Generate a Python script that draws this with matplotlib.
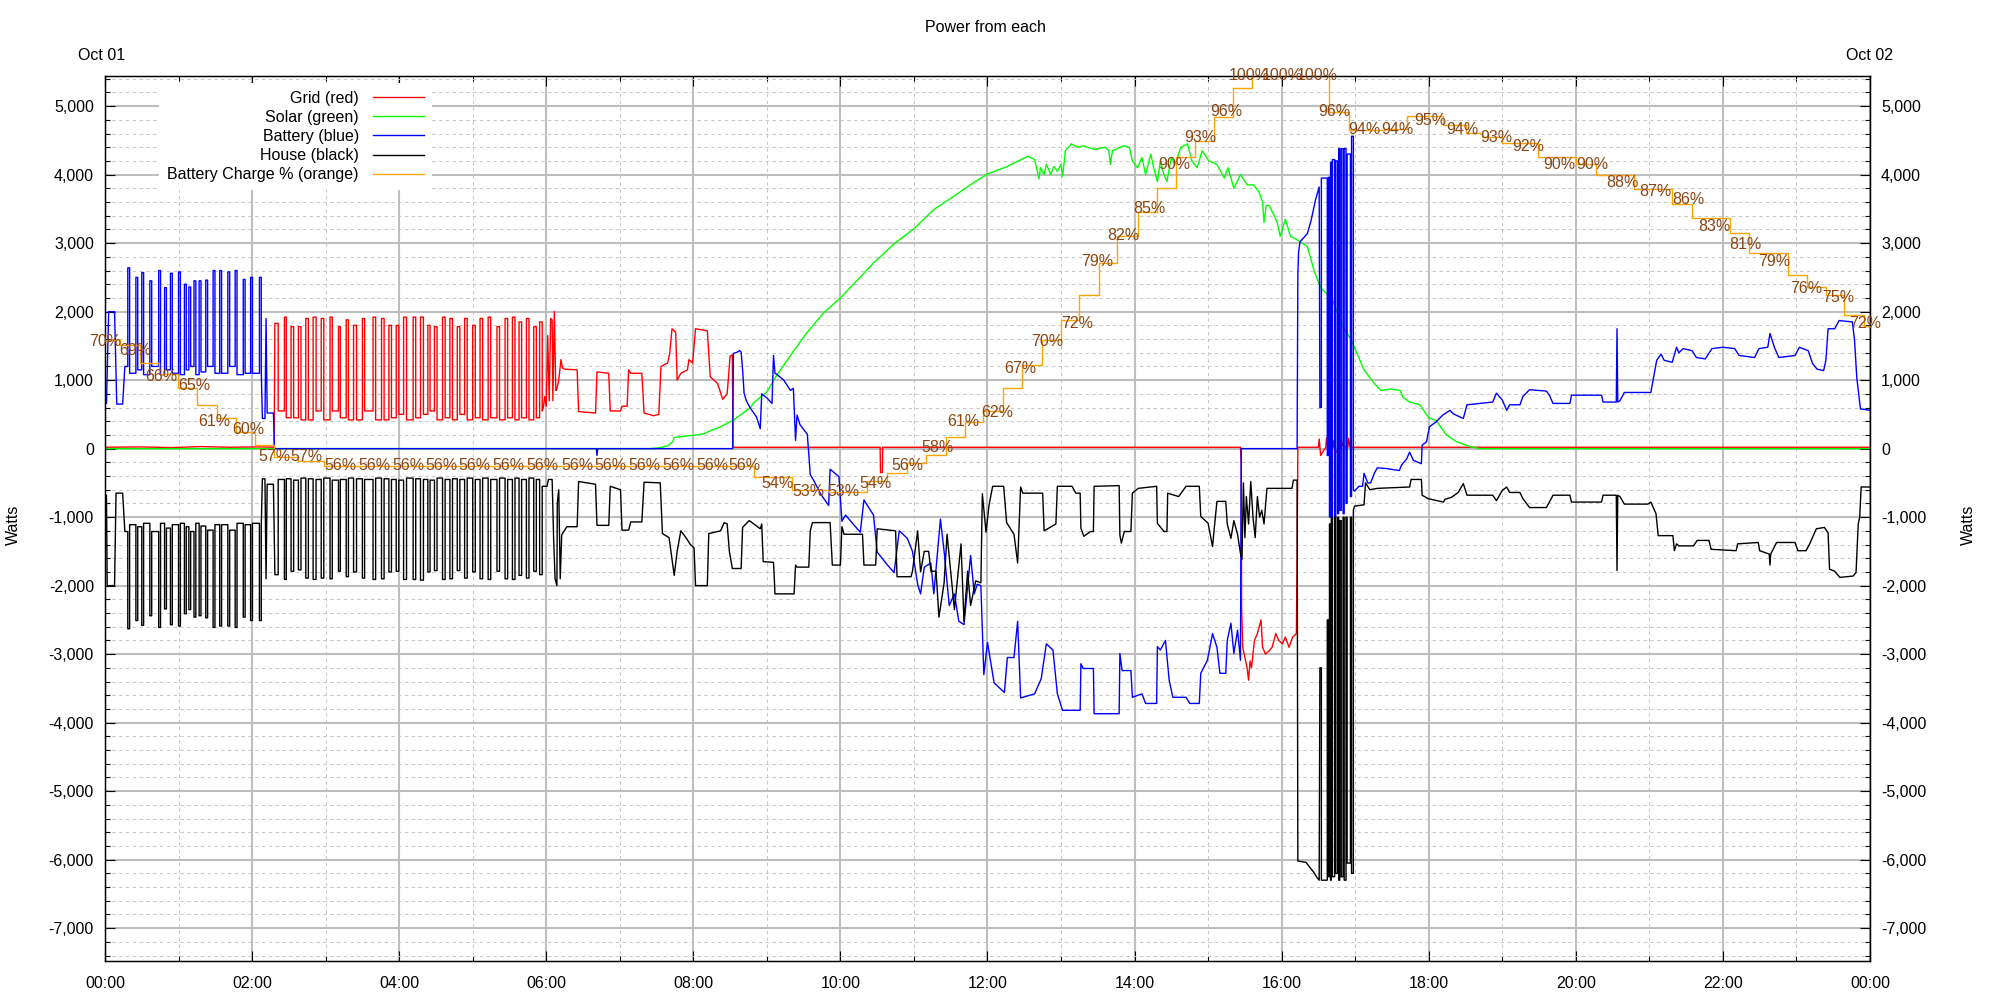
import numpy as np
import matplotlib
matplotlib.use("Agg")
import matplotlib.pyplot as plt
from matplotlib.ticker import MultipleLocator, FuncFormatter
from matplotlib.lines import Line2D

plt.rcParams['font.family'] = ['Liberation Sans', 'DejaVu Sans']

# ---------------- data (time in hours of Oct 01, power in watts) ----------------
# Grid (red)
red_pts1 = [(0.0, 20), (0.5, 25), (0.9, 15), (1.3, 30), (1.7, 20), (2.1, 25), (2.30, 20)]
red_osc_t = [2.31, 2.355, 2.44, 2.465, 2.53, 2.565, 2.63, 2.665, 2.73, 2.765,
             2.83, 2.87, 2.94, 2.975, 3.06, 3.09, 3.175, 3.20, 3.28, 3.31,
             3.38, 3.42, 3.50, 3.53, 3.645, 3.68, 3.76, 3.795, 3.86, 3.895,
             3.96, 3.995, 4.06, 4.10, 4.19, 4.225, 4.29, 4.33, 4.39, 4.42,
             4.48, 4.515, 4.59, 4.625, 4.69, 4.725, 4.79, 4.825, 4.89, 4.925,
             5.00, 5.035, 5.10, 5.135, 5.21, 5.245, 5.33, 5.365, 5.44, 5.475,
             5.54, 5.575, 5.63, 5.665, 5.73, 5.765, 5.83, 5.865, 5.91, 5.945]
red_osc_w = [1830, 550, 1920, 450, 1780, 450, 1780, 420, 1900, 420,
             1920, 550, 1900, 420, 1920, 550, 1780, 450, 1880, 420,
             1800, 420, 1900, 550, 1920, 420, 1900, 420, 1800, 450,
             1800, 500, 1920, 420, 1920, 450, 1920, 500, 1800, 550,
             1780, 420, 1920, 450, 1900, 420, 1780, 500, 1900, 420,
             1800, 450, 1900, 420, 1920, 450, 1780, 420, 1900, 450,
             1920, 420, 1850, 450, 1900, 420, 1780, 450, 1850, 550]
red_pts2 = [(5.96, 600), (5.98, 760), (6.00, 620), (6.02, 1650), (6.04, 700), (6.06, 1900),
            (6.08, 1880), (6.09, 700), (6.11, 2000), (6.13, 850), (6.14, 850), (6.17, 1000),
            (6.20, 1300), (6.22, 1180), (6.25, 1160), (6.42, 1150), (6.44, 540), (6.67, 520),
            (6.69, 1120), (6.85, 1100), (6.87, 550), (7.01, 550), (7.03, 620), (7.10, 620),
            (7.12, 1150), (7.15, 1100), (7.30, 1100), (7.33, 520), (7.46, 480), (7.53, 500),
            (7.56, 1200), (7.65, 1250), (7.68, 1400), (7.71, 1750), (7.76, 1700), (7.78, 1000),
            (7.83, 1100), (7.92, 1150), (7.94, 1300), (7.99, 1250), (8.03, 1750), (8.19, 1720),
            (8.23, 1050), (8.33, 950), (8.40, 720), (8.46, 800), (8.50, 1350), (8.53, 1370),
            (8.54, 20), (10.54, 20), (10.545, -350), (10.57, -350), (10.575, 20), (15.44, 20),
            (15.45, -230), (15.455, -2300), (15.47, -2900), (15.49, -3000), (15.53, -3200),
            (15.55, -3380), (15.57, -3100), (15.59, -3200), (15.63, -2800), (15.67, -2700),
            (15.72, -2500), (15.74, -2900), (15.78, -3000), (15.83, -2950), (15.87, -2900),
            (15.92, -2700), (15.96, -2800), (16.01, -2850), (16.05, -2750), (16.10, -2900),
            (16.15, -2750), (16.20, -2700), (16.21, -1580), (16.22, 20), (16.50, 20),
            (16.51, 140), (16.53, -100), (16.60, 20), (16.61, 160), (16.63, 0), (16.70, 20),
            (16.71, 120), (16.73, -60), (16.80, 20), (16.81, 130), (16.83, 40), (16.90, 20),
            (16.91, 150), (16.93, 20), (17.0, 20), (24.0, 20)]

# Solar (green)
green_pts = [(0.0, 0), (7.42, 0), (7.55, 15), (7.65, 40), (7.72, 100), (7.74, 165), (7.80, 170),
             (7.95, 190), (8.05, 200), (8.15, 220), (8.25, 270), (8.35, 310), (8.46, 370),
             (8.55, 420), (8.65, 500), (8.78, 600), (8.82, 670), (9.0, 830), (9.14, 1080),
             (9.36, 1420), (9.55, 1700), (9.77, 1980), (10.0, 2200), (10.23, 2460), (10.45, 2710),
             (10.73, 2990), (11.0, 3210), (11.27, 3490), (11.55, 3690), (11.82, 3890), (12.0, 4010),
             (12.27, 4120), (12.55, 4270), (12.64, 4220), (12.70, 3940), (12.72, 4100), (12.77, 4000),
             (12.80, 4150), (12.86, 4000), (12.90, 4120), (12.95, 4050), (13.0, 4150), (13.02, 3970),
             (13.06, 4350), (13.14, 4450), (13.22, 4400), (13.30, 4420), (13.45, 4370), (13.60, 4400),
             (13.65, 4350), (13.67, 4150), (13.70, 4350), (13.85, 4420), (13.93, 4400), (13.97, 4200),
             (14.04, 4100), (14.10, 4250), (14.15, 4000), (14.22, 4300), (14.26, 4100), (14.31, 3900),
             (14.35, 4200), (14.40, 4000), (14.44, 3900), (14.50, 4250), (14.55, 4150), (14.63, 4400),
             (14.72, 4450), (14.78, 4200), (14.85, 4100), (14.92, 4350), (15.01, 4200), (15.12, 4150),
             (15.17, 4050), (15.22, 3950), (15.27, 4100), (15.35, 3800), (15.44, 4000), (15.53, 3850),
             (15.62, 3850), (15.69, 3750), (15.74, 3600), (15.76, 3300), (15.79, 3550), (15.83, 3550),
             (15.90, 3400), (15.94, 3300), (15.98, 3100), (16.05, 3350), (16.12, 3100), (16.21, 3050),
             (16.35, 2950), (16.44, 2600), (16.53, 2350), (16.62, 2250), (16.70, 2150), (16.76, 1980),
             (16.85, 1750), (16.94, 1600), (17.0, 1450), (17.12, 1150), (17.26, 950), (17.35, 850),
             (17.48, 870), (17.61, 850), (17.65, 750), (17.74, 680), (17.88, 640), (18.0, 450),
             (18.10, 410), (18.24, 200), (18.38, 100), (18.56, 30), (18.69, 0), (24.0, 0)]

# Battery (blue)
blue_pts1 = [(0.0, 660), (0.02, 660), (0.05, 2000), (0.13, 2000), (0.16, 650), (0.24, 650)]
batt_osc_t = [0.27, 0.31, 0.335, 0.42, 0.445, 0.50, 0.525, 0.61, 0.635, 0.73, 0.755,
              0.81, 0.835, 0.89, 0.915, 1.00, 1.025, 1.08, 1.105, 1.14, 1.165,
              1.21, 1.235, 1.28, 1.305, 1.37, 1.395, 1.47, 1.495, 1.56, 1.585,
              1.67, 1.695, 1.77, 1.795, 1.88, 1.905, 1.98, 2.005, 2.10, 2.125]
blue_osc_w = [1200, 2640, 1100, 2500, 1150, 2570, 1080, 2450, 1200, 2600, 1080,
              2350, 1150, 2560, 1100, 2580, 1080, 2400, 1150, 2360, 1200,
              2450, 1080, 2450, 1120, 2460, 1200, 2600, 1100, 2600, 1100,
              2580, 1200, 2600, 1080, 2470, 1100, 2500, 1100, 2500, 1120]
blue_pts2 = [(2.14, 440), (2.175, 440), (2.19, 1900), (2.205, 520), (2.29, 520), (2.305, 0),
             (6.68, 0), (6.69, -100), (6.70, 0), (8.535, 0), (8.545, 1390), (8.60, 1410),
             (8.63, 1430), (8.65, 1410), (8.67, 1150), (8.69, 810), (8.72, 700), (8.77, 600),
             (8.86, 460), (8.91, 290), (8.93, 800), (9.0, 740), (9.07, 660), (9.09, 1360),
             (9.11, 1100), (9.14, 1080), (9.23, 1000), (9.32, 850), (9.36, 880), (9.39, 120),
             (9.41, 490), (9.45, 350), (9.55, 210), (9.59, -380), (9.64, -470), (9.73, -660),
             (9.84, -830), (9.86, -300), (9.98, -410), (10.02, -1060), (10.07, -970), (10.18, -1110),
             (10.27, -1220), (10.32, -750), (10.45, -970), (10.50, -1510), (10.64, -1700),
             (10.73, -1810), (10.80, -1200), (10.91, -1310), (10.98, -1500), (11.05, -1980),
             (11.09, -2120), (11.14, -1730), (11.23, -1670), (11.27, -2120), (11.32, -1510),
             (11.36, -1030), (11.41, -1500), (11.48, -2290), (11.55, -2120), (11.61, -2520),
             (11.68, -2570), (11.77, -1560), (11.82, -2120), (11.86, -1980), (11.91, -2000),
             (11.95, -3300), (12.0, -2830), (12.09, -3420), (12.23, -3560), (12.27, -3050),
             (12.36, -3050), (12.41, -2520), (12.45, -3640), (12.64, -3580), (12.73, -3360),
             (12.80, -2850), (12.89, -2940), (12.95, -3580), (13.02, -3820), (13.26, -3820),
             (13.27, -3140), (13.30, -3210), (13.44, -3210), (13.45, -3870), (13.79, -3870),
             (13.80, -2990), (13.83, -3240), (13.95, -3240), (13.97, -3630), (14.10, -3580),
             (14.15, -3720), (14.30, -3720), (14.31, -2890), (14.35, -2940), (14.42, -2800),
             (14.47, -3380), (14.52, -3630), (14.70, -3630), (14.75, -3720), (14.88, -3720),
             (14.90, -3280), (14.99, -3090), (15.06, -2700), (15.12, -2900), (15.16, -3280),
             (15.24, -3280), (15.26, -2800), (15.31, -2550), (15.35, -2990), (15.40, -2650),
             (15.44, -3090), (15.45, 0), (16.21, 0), (16.215, 1140), (16.22, 2550), (16.23, 2870),
             (16.25, 3020), (16.35, 3140), (16.40, 3330), (16.46, 3630), (16.51, 3820)]
evening_osc_t = [16.52, 16.54, 16.62, 16.635, 16.65, 16.665, 16.675, 16.69, 16.72, 16.735,
                 16.76, 16.775, 16.79, 16.81, 16.835, 16.85, 16.875, 16.89, 16.935, 16.95, 16.975]
blue_osc3_w = [600, 3950, -100, 3960, -1000, 4180, -1000, 4220, -1000, 4200,
               -950, 4380, -900, 4380, -950, 4380, -800, 4300, -700, 4560, -600]
blue_pts3 = [(16.99, -620), (17.05, -550), (17.10, -550), (17.12, -360), (17.17, -500), (17.21, -500),
             (17.26, -360), (17.30, -280), (17.42, -290), (17.60, -320), (17.63, -240), (17.70, -150),
             (17.74, -50), (17.79, -170), (17.90, -220), (17.91, 50), (17.97, 100), (18.01, 320),
             (18.10, 390), (18.19, 490), (18.29, 560), (18.33, 510), (18.47, 440), (18.52, 640),
             (18.69, 660), (18.87, 680), (18.92, 810), (19.0, 710), (19.06, 560), (19.10, 640),
             (19.24, 640), (19.28, 760), (19.37, 860), (19.60, 840), (19.64, 780), (19.69, 660),
             (19.92, 660), (19.94, 780), (20.35, 780), (20.37, 680), (20.55, 680), (20.56, 1750),
             (20.57, 680), (20.60, 700), (20.66, 820), (21.02, 820), (21.04, 940), (21.10, 1290),
             (21.16, 1380), (21.20, 1290), (21.31, 1260), (21.37, 1480), (21.40, 1400), (21.46, 1460),
             (21.58, 1430), (21.64, 1330), (21.76, 1310), (21.85, 1460), (22.0, 1480), (22.16, 1460),
             (22.22, 1360), (22.43, 1330), (22.49, 1460), (22.61, 1480), (22.64, 1680), (22.70, 1480),
             (22.76, 1330), (22.98, 1360), (23.04, 1480), (23.16, 1430), (23.22, 1240), (23.28, 1160),
             (23.37, 1140), (23.40, 1290), (23.43, 1750), (23.52, 1750), (23.58, 1870), (23.76, 1850),
             (23.79, 1580), (23.82, 1040), (23.87, 580), (24.0, 560)]

# House (black)
house_pts1 = [(0.0, -680), (0.02, -680), (0.03, -2000), (0.13, -2000), (0.15, -650), (0.24, -650)]
house_osc1_w = [-1210, -2630, -1110, -2510, -1140, -2580, -1090, -2440, -1210, -2610, -1090,
                -2340, -1160, -2570, -1110, -2590, -1090, -2410, -1140, -2350, -1210,
                -2460, -1090, -2440, -1130, -2470, -1190, -2610, -1110, -2590, -1110,
                -2590, -1190, -2610, -1090, -2460, -1110, -2510, -1090, -2510, -1130]
house_pts2 = [(2.14, -440), (2.175, -440), (2.19, -1900), (2.205, -520), (2.29, -520)]
house_osc2_w = [-1840, -450, -1910, -440, -1790, -460, -1770, -430, -1890, -440,
                -1910, -450, -1890, -430, -1900, -460, -1790, -450, -1870, -430,
                -1800, -440, -1890, -450, -1910, -430, -1900, -440, -1800, -450,
                -1790, -460, -1910, -430, -1910, -440, -1920, -450, -1800, -460,
                -1780, -430, -1910, -450, -1900, -440, -1780, -450, -1890, -430,
                -1800, -450, -1900, -430, -1910, -450, -1790, -430, -1900, -450,
                -1910, -430, -1850, -450, -1890, -430, -1790, -450, -1840, -550]
house_pts3 = [(5.96, -550), (6.01, -550), (6.03, -450), (6.08, -450), (6.10, -1300), (6.12, -1900),
              (6.145, -2000), (6.15, -800), (6.17, -600), (6.19, -1900), (6.21, -1260), (6.28, -1140),
              (6.42, -1140), (6.44, -480), (6.67, -520), (6.69, -1120), (6.85, -1120), (6.87, -550),
              (7.01, -600), (7.03, -1190), (7.12, -1190), (7.15, -1070), (7.30, -1070), (7.33, -490),
              (7.55, -500), (7.58, -1240), (7.67, -1300), (7.74, -1850), (7.78, -1500), (7.83, -1200),
              (7.90, -1300), (7.96, -1400), (8.01, -1450), (8.03, -2000), (8.19, -2000), (8.21, -1240),
              (8.37, -1200), (8.42, -1080), (8.46, -1100), (8.49, -1500), (8.53, -1750), (8.65, -1750),
              (8.67, -1150), (8.76, -1050), (8.91, -1170), (8.93, -1100), (8.95, -1650), (9.09, -1660),
              (9.10, -1870), (9.11, -2120), (9.37, -2120), (9.39, -1700), (9.41, -1730), (9.57, -1730),
              (9.59, -1200), (9.62, -1080), (9.86, -1080), (9.89, -1700), (10.0, -1700), (10.02, -1140),
              (10.05, -1250), (10.30, -1250), (10.32, -1700), (10.48, -1700), (10.50, -1170),
              (10.75, -1200), (10.77, -1870), (10.96, -1870), (10.98, -1790), (11.05, -1200),
              (11.09, -1800), (11.14, -1500), (11.20, -1500), (11.23, -1790), (11.30, -1790),
              (11.34, -2460), (11.41, -1960), (11.45, -1250), (11.55, -2350), (11.64, -1390),
              (11.68, -2520), (11.73, -1790), (11.77, -2290), (11.84, -1930), (11.91, -1960),
              (11.93, -660), (11.98, -1220), (12.02, -830), (12.07, -550), (12.22, -550),
              (12.26, -1080), (12.36, -1250), (12.41, -1670), (12.45, -560), (12.48, -650),
              (12.75, -650), (12.77, -1200), (12.93, -1100), (12.95, -550), (13.15, -550),
              (13.20, -650), (13.26, -650), (13.27, -1160), (13.31, -1280), (13.40, -1210),
              (13.44, -1210), (13.45, -550), (13.79, -540), (13.80, -1260), (13.82, -1380),
              (13.86, -1210), (13.95, -1210), (13.97, -650), (14.05, -580), (14.30, -550),
              (14.31, -1090), (14.40, -1210), (14.44, -1210), (14.45, -650), (14.60, -700),
              (14.70, -550), (14.88, -550), (14.90, -990), (15.00, -1090), (15.06, -1430),
              (15.08, -1200), (15.12, -770), (15.24, -770), (15.26, -1100), (15.31, -1310),
              (15.35, -1050), (15.40, -1250), (15.44, -1530), (15.46, -1620), (15.48, -500),
              (15.50, -1300), (15.52, -700), (15.55, -1100), (15.58, -480), (15.61, -1000),
              (15.64, -1300), (15.67, -700), (15.70, -1000), (15.73, -900), (15.76, -1100),
              (15.80, -580), (16.14, -580), (16.16, -460), (16.21, -460), (16.22, -6020),
              (16.33, -6040), (16.44, -6190), (16.48, -6260), (16.51, -6300)]
house_osc3_w = [-3200, -6300, -2500, -6250, -1100, -6300, -1000, -6250, -1000, -6200,
                -1000, -6300, -1050, -6250, -1000, -6300, -1000, -6050, -1000, -6200, -900]
house_pts4 = [(16.99, -840), (17.12, -820), (17.14, -500), (17.20, -600), (17.30, -580), (17.74, -560),
              (17.76, -450), (17.90, -450), (17.91, -680), (17.99, -730), (18.20, -780), (18.22, -740),
              (18.31, -710), (18.40, -640), (18.47, -510), (18.52, -680), (18.87, -680), (18.92, -760),
              (19.0, -610), (19.06, -560), (19.10, -640), (19.24, -640), (19.28, -730), (19.37, -860),
              (19.60, -860), (19.64, -780), (19.69, -680), (19.92, -680), (19.94, -780), (20.35, -780),
              (20.37, -680), (20.55, -680), (20.56, -1780), (20.57, -680), (20.60, -700), (20.66, -810),
              (20.98, -810), (21.02, -780), (21.09, -950), (21.12, -1270), (21.32, -1270), (21.34, -1490),
              (21.37, -1390), (21.40, -1420), (21.60, -1420), (21.65, -1340), (21.81, -1340),
              (21.84, -1470), (22.18, -1490), (22.20, -1390), (22.48, -1370), (22.50, -1490),
              (22.63, -1540), (22.64, -1700), (22.65, -1540), (22.73, -1370), (22.98, -1370),
              (23.02, -1490), (23.13, -1490), (23.18, -1390), (23.27, -1170), (23.38, -1150),
              (23.43, -1230), (23.45, -1760), (23.52, -1790), (23.59, -1880), (23.77, -1860),
              (23.81, -1810), (23.84, -1100), (23.86, -1000), (23.88, -560), (24.0, -560)]

# Battery charge % (orange), step values and printed labels
pct_t = [0.0, 0.21, 0.47, 0.73, 0.99, 1.25, 1.52, 1.78, 2.04, 2.30, 2.62, 2.98,
         8.82, 9.34, 9.84, 10.36, 10.64, 10.90, 11.16, 11.43, 11.69, 11.94, 12.21, 12.47, 12.74, 13.00,
         13.24, 13.51, 13.76, 14.04, 14.30, 14.56, 14.82, 15.08, 15.34, 15.60,
         16.64, 16.92, 17.40, 17.70, 18.19, 18.50, 18.73, 18.99, 19.49, 20.00,
         20.28, 20.79, 21.31, 21.58, 22.10, 22.36, 22.88, 23.15, 23.40, 23.65, 23.92, 24.0]
pct_v = [70.2, 69.6, 67.6, 66.3, 64.8, 62.8, 61.3, 59.8, 58.3, 57.0, 56.5, 55.9,
         54.7, 53.2, 53.0, 54.2, 55.1, 56.3, 57.2, 59.2, 60.9, 62.2, 64.8, 67.3, 70.2, 72.4,
         75.3, 78.9, 81.9, 84.6, 87.4, 90.9, 92.6, 95.4, 98.6, 100.0,
         95.9, 93.9, 94.0, 95.5, 94.5, 93.6, 93.1, 92.4, 90.9, 90.1,
         88.8, 87.2, 85.5, 83.9, 82.3, 80.0, 77.5, 76.2, 75.2, 73.0, 71.8, 71.8]
lbl_t = [0.0, 0.41, 0.77, 1.21, 1.49, 1.95, 2.30, 2.74,
         3.20, 3.67, 4.13, 4.58, 5.03, 5.49, 5.95, 6.42, 6.87, 7.34, 7.80, 8.26, 8.69,
         9.14, 9.57, 10.04, 10.48, 10.91, 11.32, 11.67, 12.13, 12.45, 12.81,
         13.22, 13.49, 13.85, 14.20, 14.54, 14.89, 15.25, 15.56, 16.01, 16.49,
         16.71, 17.13, 17.57, 18.02, 18.46, 18.92, 19.35, 19.78, 20.23, 20.64,
         21.08, 21.53, 21.88, 22.30, 22.70, 23.13, 23.57, 23.93]
lbl_v = [70, 69, 66, 65, 61, 60, 57, 57,
         56, 56, 56, 56, 56, 56, 56, 56, 56, 56, 56, 56, 56,
         54, 53, 53, 54, 56, 58, 61, 62, 67, 70,
         72, 79, 82, 85, 90, 93, 96, 100, 100, 100,
         96, 94, 94, 95, 94, 93, 92, 90, 90, 88,
         87, 86, 83, 81, 79, 76, 75, 72]

series_names = ['Grid (red)', 'Solar (green)', 'Battery (blue)', 'House (black)',
                'Battery Charge % (orange)']

# ---------------- helpers ----------------
def pts(p):
    a = np.asarray(p, float)
    return a[:, 0], a[:, 1]

def steps(t, w):
    t = np.asarray(t, float)
    w = np.asarray(w, float)
    return np.repeat(t, 2)[1:], np.repeat(w, 2)[:-1]

def join(*segs):
    return np.concatenate([s[0] for s in segs]), np.concatenate([s[1] for s in segs])

red = join(pts(red_pts1), steps(red_osc_t, red_osc_w), pts(red_pts2))
green = pts(green_pts)
blue = join(pts(blue_pts1), steps(batt_osc_t, blue_osc_w), pts(blue_pts2),
            steps(evening_osc_t, blue_osc3_w), pts(blue_pts3))
house = join(pts(house_pts1), steps(batt_osc_t, house_osc1_w), pts(house_pts2),
             steps(red_osc_t, house_osc2_w), pts(house_pts3),
             steps(evening_osc_t, house_osc3_w), pts(house_pts4))
charge = steps(pct_t, pct_v)

# ---------------- figure ----------------
FS = 11.5
fig = plt.figure(figsize=(20, 10), dpi=100)
ax = fig.add_axes([0.0525, 0.039, 0.8825, 0.885])
ax.set_xlim(0, 24)
ax.set_ylim(-7480, 5440)

colors = ['#ff0000', '#00ff00', '#0000ff', '#000000', '#ffa500']
lw = 1.0
ax.plot(*red, color=colors[0], lw=lw)
ax.plot(*green, color=colors[1], lw=lw)
ax.plot(*blue, color=colors[2], lw=lw)
ax.plot(*house, color=colors[3], lw=lw)

ax.xaxis.set_major_locator(MultipleLocator(2))
ax.xaxis.set_minor_locator(MultipleLocator(1))
ax.yaxis.set_major_locator(MultipleLocator(1000))
ax.yaxis.set_minor_locator(MultipleLocator(200))
ax.xaxis.set_major_formatter(FuncFormatter(lambda v, p: f"{int(round(v)) % 24:02d}:00"))
ax.yaxis.set_major_formatter(FuncFormatter(lambda v, p: f"{int(round(v)):,}"))

ax.grid(which='major', color='#bebebe', lw=1.5, ls='-')
ax.grid(which='minor', color='#c6c6c6', lw=0.7, ls=(0, (3.5, 3.5)))
ax.set_axisbelow(True)
for s in ax.spines.values():
    s.set_linewidth(1.0)

ax2 = ax.twinx()
ax2.set_ylim(0, 100)
ax2.yaxis.set_visible(False)
ax2.plot(*charge, color=colors[4], lw=lw)
for t, v in zip(lbl_t, lbl_v):
    ax2.text(t, v, f"{v}%", ha='center', va='center', color='#8b4513',
             fontsize=11.5, clip_on=False, zorder=5)

ax.tick_params(which='both', direction='in', top=True, right=True, left=True, bottom=True,
               labelright=True, labelleft=True, labelsize=FS, width=0.8)
ax.tick_params(which='major', length=7)
ax.tick_params(which='minor', length=3.5)
ax.tick_params(axis='y', which='major', pad=8)
ax.tick_params(axis='x', which='major', pad=10.5)

handles = [Line2D([], [], color=c, lw=lw) for c in colors]
leg = ax2.legend(handles, series_names, loc='upper right', bbox_to_anchor=(0.1853, 0.9924),
                 borderaxespad=0, markerfirst=False, fontsize=FS, handlelength=3.2,
                 handletextpad=0.88, labelspacing=0.26, borderpad=0.5, frameon=True,
                 fancybox=False, framealpha=1)
leg.get_frame().set_edgecolor('none')
leg.get_frame().set_facecolor('white')
leg.set_zorder(10)

fig.text(0.4925, 0.973, 'Power from each', ha='center', va='center', fontsize=FS)
fig.text(102 / 2000, 0.944, 'Oct 01', ha='center', va='center', fontsize=FS)
fig.text(1869 / 2000, 0.944, 'Oct 02', ha='center', va='center', fontsize=FS)
fig.text(13 / 2000, 1 - 525 / 1000, 'Watts', rotation=90, ha='center', va='center', fontsize=FS)
fig.text(1968 / 2000, 1 - 525 / 1000, 'Watts', rotation=90, ha='center', va='center', fontsize=FS)

fig.savefig('out.png', dpi=100, facecolor='white')
